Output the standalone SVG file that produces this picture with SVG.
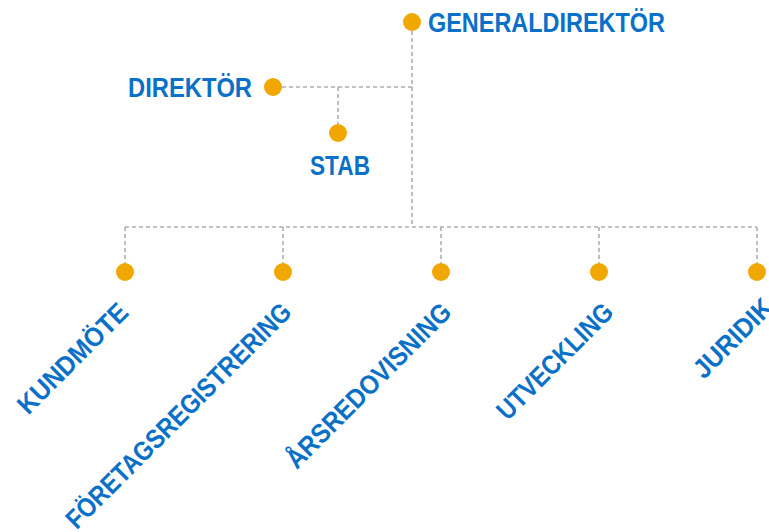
<svg xmlns="http://www.w3.org/2000/svg" width="769" height="532" viewBox="0 0 769 532">
<style>
.dot{fill:#F0A800}
.lbl{font-family:"Liberation Sans",Arial,sans-serif;font-weight:bold;font-size:27px;fill:#0A70C8}
.con{fill:none;stroke:#AEAEAE;stroke-width:1.6;stroke-dasharray:4 3}
</style>
<rect width="769" height="532" fill="#fff"/>
<g id="connectors">
<path class="con" d="M412 31V227"/>
<path class="con" d="M282 87H412"/>
<path class="con" d="M338 87V124"/>
<path class="con" d="M125 227H757"/>
<path class="con" d="M125 227V263M283 227V263M441 227V263M599 227V263M757 227V263"/>
</g>
<g id="generaldirektor"><circle class="dot" cx="412" cy="22" r="9"/><text class="lbl" x="428" y="32" textLength="237" lengthAdjust="spacingAndGlyphs">GENERALDIREKTÖR</text></g>
<g id="direktor"><circle class="dot" cx="273" cy="87" r="9"/><text class="lbl" x="128" y="97" textLength="124" lengthAdjust="spacingAndGlyphs">DIREKTÖR</text></g>
<g id="stab"><circle class="dot" cx="338" cy="133" r="9"/><text class="lbl" x="310" y="175" textLength="60" lengthAdjust="spacingAndGlyphs">STAB</text></g>
<g id="kundmote"><circle class="dot" cx="125" cy="272" r="9"/><text class="lbl" transform="translate(130 314) rotate(-45)" text-anchor="end" textLength="144" lengthAdjust="spacingAndGlyphs">KUNDMÖTE</text></g>
<g id="foretagsregistrering"><circle class="dot" cx="283" cy="272" r="9"/><text class="lbl" transform="translate(293 314) rotate(-45)" text-anchor="end" textLength="306" lengthAdjust="spacingAndGlyphs">FÖRETAGSREGISTRERING</text></g>
<g id="arsredovisning"><circle class="dot" cx="441" cy="272" r="9"/><text class="lbl" transform="translate(453 314) rotate(-45)" text-anchor="end" textLength="221" lengthAdjust="spacingAndGlyphs">ÅRSREDOVISNING</text></g>
<g id="utveckling"><circle class="dot" cx="599" cy="272" r="9"/><text class="lbl" transform="translate(615 314) rotate(-45)" text-anchor="end" textLength="152" lengthAdjust="spacingAndGlyphs">UTVECKLING</text></g>
<g id="juridik"><circle class="dot" cx="757" cy="272" r="9"/><text class="lbl" transform="translate(704 380) rotate(-45)" textLength="100" lengthAdjust="spacingAndGlyphs">JURIDIK</text></g>
</svg>
